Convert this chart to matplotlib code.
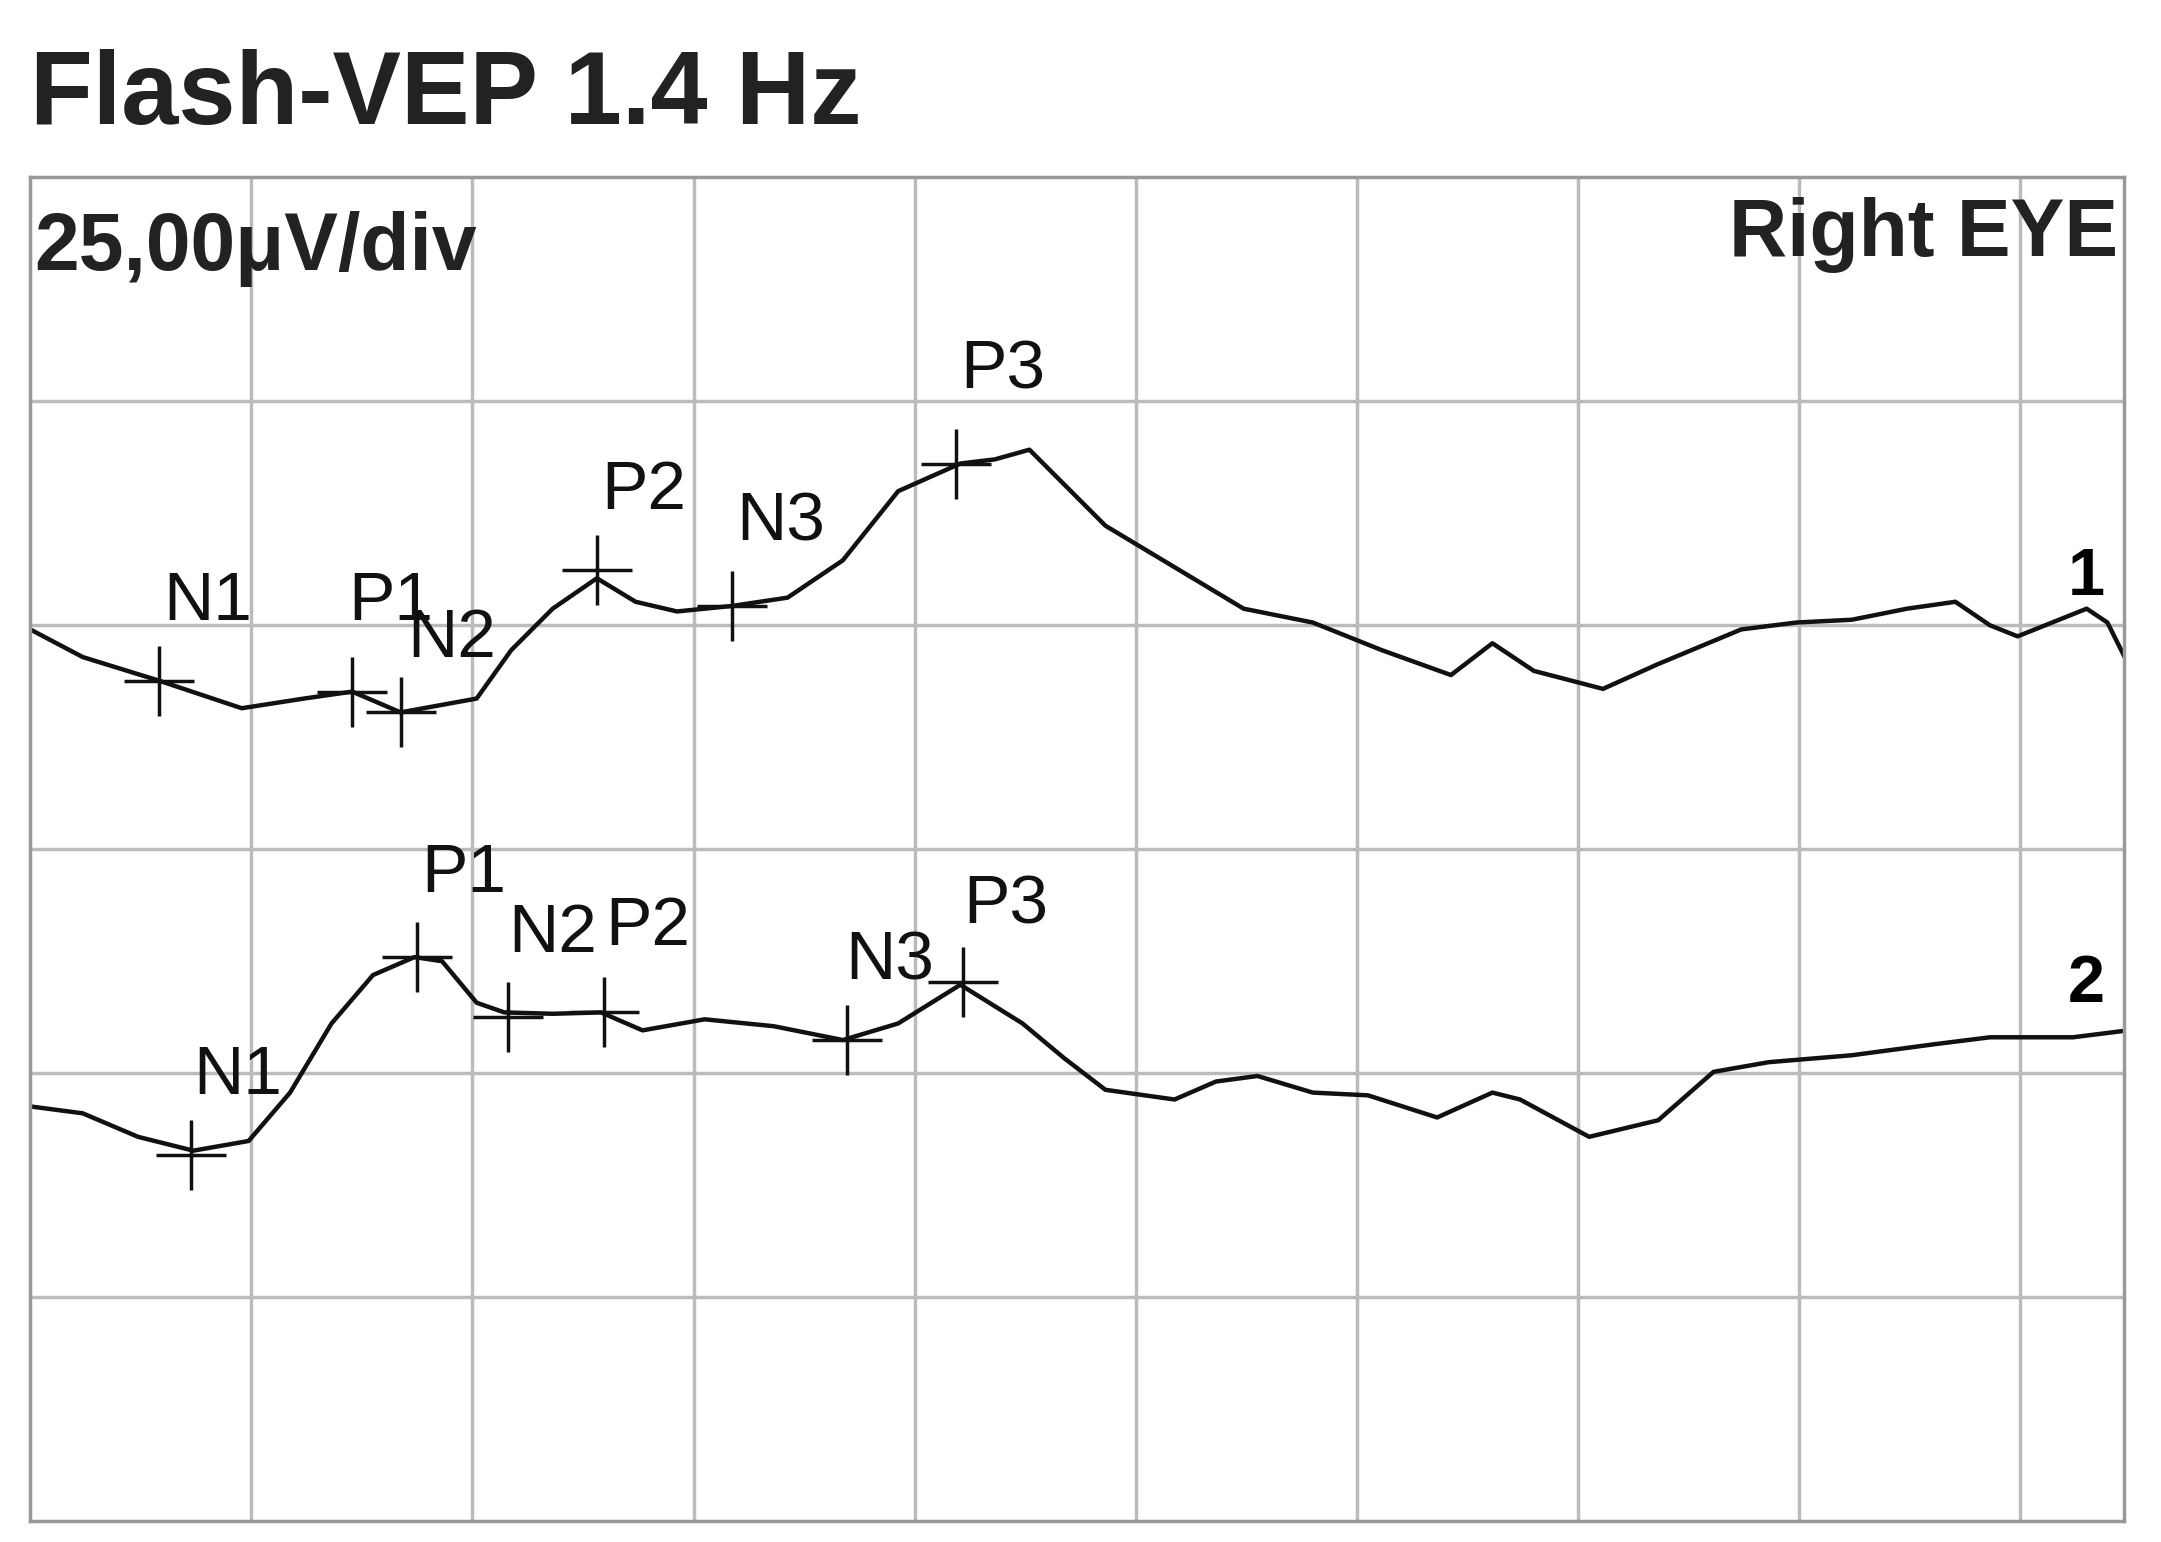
import matplotlib
matplotlib.use("Agg")
import matplotlib.pyplot as plt
import numpy as np

plt.rcParams['font.family'] = ['Liberation Sans', 'DejaVu Sans']

# values (grid divisions; x: time div, y: amplitude div)
def dx(v): return (np.array(v, float) - 22) / 160.0
def dy(v): return (1100 - np.array(v, float)) / 162.0

t1 = dx([22,60,115,175,220,255,290,345,370,400,432,460,490,530,570,610,650,695,720,745,770,800,850,900,950,1000,1050,1080,1110,1160,1200,1260,1300,1340,1380,1415,1440,1460,1490,1510,1525,1540])
v1 = dy([455,475,492,512,505,500,515,505,470,440,418,435,442,438,432,405,355,335,332,325,350,380,410,440,450,470,488,465,485,498,480,455,450,448,440,435,452,460,448,440,450,480])
t2 = dx([22,60,100,140,180,210,240,270,300,320,345,365,400,435,465,510,560,610,650,695,740,770,800,850,880,910,950,990,1040,1080,1100,1150,1200,1240,1280,1340,1400,1440,1500,1540])
v2 = dy([800,805,822,832,825,790,740,705,692,695,725,732,733,732,745,737,742,752,740,712,740,765,788,795,782,778,790,792,808,790,795,822,810,775,768,763,755,750,750,745])

peak_names = ["N1", "P1", "N2", "P2", "N3", "P3"]
m1_t = dx([115,255,290,432,530,692]); m1_v = dy([492,500,515,412,438,335])
m2_t = dx([138,302,368,437,613,697]); m2_v = dy([835,692,735,732,752,710])
l1_t = dx([118,252,295,435,533,695]); l1_v = dy([435,435,462,355,378,268])
l2_t = dx([140,305,368,438,612,697]); l2_v = dy([778,632,675,670,695,655])

fig = plt.figure(figsize=(21.61, 15.42), dpi=100)
ax = fig.add_axes([0.014, 0.0135, 0.969, 0.8715])
ax.set_xlim(0, 9.47); ax.set_ylim(0, 6)
for x in range(1, 10):
    ax.axvline(x, color='#bbbbbb', lw=2.5, zorder=0)
for y in range(1, 6):
    ax.axhline(y, color='#bbbbbb', lw=2.5, zorder=0)
for s in ax.spines.values():
    s.set_color('#999999'); s.set_linewidth(2.5)
ax.set_xticks([]); ax.set_yticks([])

ax.plot(t1, v1, color='#111111', lw=3.2)
ax.plot(t2, v2, color='#111111', lw=3.2)
ax.plot(m1_t, m1_v, '+', color='#111111', ms=50, mew=2.5)
ax.plot(m2_t, m2_v, '+', color='#111111', ms=50, mew=2.5)
for n, x, y in zip(peak_names, l1_t, l1_v):
    ax.text(x, y, n, fontsize=50, ha='left', va='center', color='#111111')
for n, x, y in zip(peak_names, l2_t, l2_v):
    ax.text(x, y, n, fontsize=50, ha='left', va='center', color='#111111')
ax.text(dx(1510), dy(418), "1", fontsize=48, fontweight='bold', ha='center', va='center')
ax.text(dx(1510), dy(712), "2", fontsize=48, fontweight='bold', ha='center', va='center')
ax.text(0.002, 0.975, "25,00μV/div", transform=ax.transAxes, fontsize=58, fontweight='bold', ha='left', va='top', color='#222222')
ax.text(0.997, 0.985, "Right EYE", transform=ax.transAxes, fontsize=58, fontweight='bold', ha='right', va='top', color='#222222')
fig.text(0.014, 0.937, "Flash-VEP 1.4 Hz", fontsize=74, fontweight='bold', ha='left', va='center', color='#222222')

fig.savefig("out.png", dpi=100)
